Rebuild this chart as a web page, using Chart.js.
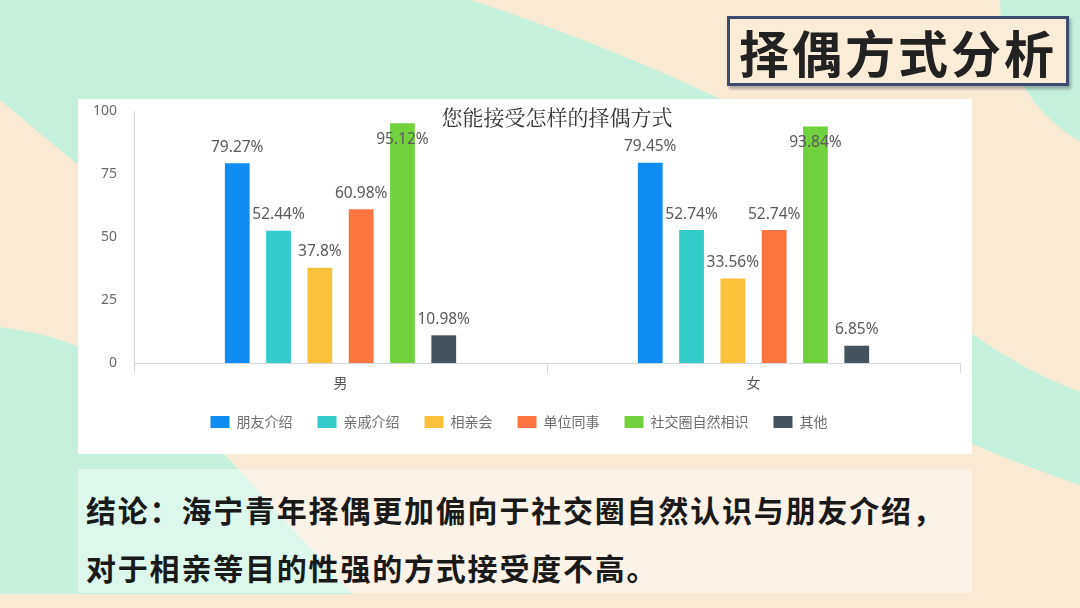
<!DOCTYPE html>
<html>
<head>
<meta charset="utf-8">
<script src="https://cdn.jsdelivr.net/npm/chart.js@4.4.1/dist/chart.umd.min.js"></script>
<style>
  html, body { margin:0; padding:0; }
  body { width:1080px; height:608px; position:relative; overflow:hidden; background:#f8ead5;
         font-family:"Noto Sans CJK SC","Noto Sans",sans-serif; }
  #bg { position:absolute; left:0; top:0; }
  #titleBox { position:absolute; left:727px; top:16px; width:336px; height:64px;
    border:3px solid #3d4b6e; background:#f9ecd8; box-shadow:2px 3px 3px rgba(40,40,60,0.35);
    display:flex; align-items:center; justify-content:center;
    font-size:50px; font-weight:700; letter-spacing:3px; color:#222; }
  #panel { position:absolute; left:78px; top:99px; width:894px; height:355px; background:#fff; }
  #concl { position:absolute; left:78px; top:469px; width:894px; height:124px; background:rgba(255,255,255,0.45); }
  .line { position:absolute; left:8px; font-size:30px; font-weight:700; color:#1a1a1a; letter-spacing:1.8px; white-space:nowrap; line-height:36px; }
</style>
</head>
<body>
<svg id="bg" width="1080" height="608" viewBox="0 0 1080 608">
  <path d="M0,0 L470,0 Q610,45 748,112 L600,320 L78,165 L0,100 Z" fill="#c4f0dc"/>
  <path d="M0,327 Q50,334 78,347 Q160,395 227,457 L352,594 L0,594 Z" fill="#c4f0dc"/>
  <ellipse cx="1150" cy="0" rx="150" ry="160" fill="#c4f0dc"/>
  <path d="M930,300 Q1000,362 1080,392 L1080,485 Q1010,462 930,425 Z" fill="#c4f0dc"/>
</svg>
<div id="titleBox">择偶方式分析</div>
<div id="panel"><canvas id="c" width="894" height="355"></canvas></div>
<div id="concl">
  <div class="line" style="top:22px;">结论：海宁青年择偶更加偏向于社交圈自然认识与朋友介绍，</div>
  <div class="line" style="top:80px;">对于相亲等目的性强的方式接受度不高。</div>
</div>
<script>
const categories = ['男', '女'];
const seriesNames = ['朋友介绍', '亲戚介绍', '相亲会', '单位同事', '社交圈自然相识', '其他'];
const friendIntro = [79.27, 79.45];
const relativeIntro = [52.44, 52.74];
const blindDate = [37.8, 33.56];
const colleagues = [60.98, 52.74];
const socialCircle = [95.12, 93.84];
const others = [10.98, 6.85];
const yTicks = [0, 25, 50, 75, 100];
const chartTitle = '您能接受怎样的择偶方式';

const seriesValues = [friendIntro, relativeIntro, blindDate, colleagues, socialCircle, others];
const colors = ['#0e8cf2', '#34cccb', '#fbc13b', '#fc7440', '#71d23d', '#44535e'];

const labelPlugin = {
  id: 'barLabels',
  afterDatasetsDraw(chart) {
    const ctx = chart.ctx;
    const top = chart.chartArea.top;
    ctx.save();
    ctx.font = '15.5px "Noto Sans", sans-serif';
    ctx.fillStyle = '#5a5a5a';
    ctx.textAlign = 'center';
    ctx.textBaseline = 'middle';
    chart.data.datasets.forEach((ds, di) => {
      const meta = chart.getDatasetMeta(di);
      meta.data.forEach((bar, i) => {
        let y = bar.y - 16;
        if (y < top + 22) y = bar.y + 16;
        ctx.fillText(ds.data[i] + '%', bar.x, y);
      });
    });
    ctx.restore();
  }
};

const titlePlugin = {
  id: 'chartTitle',
  afterDraw(chart) {
    const ctx = chart.ctx;
    const a = chart.chartArea;
    ctx.save();
    ctx.font = '21px "Noto Serif CJK SC", "Noto Sans CJK SC", serif';
    ctx.fillStyle = '#333';
    ctx.textAlign = 'center';
    ctx.textBaseline = 'middle';
    ctx.fillText(chartTitle, (a.left + a.right) / 2 + 10, 18);
    ctx.restore();
  }
};

new Chart(document.getElementById('c'), {
  type: 'bar',
  data: {
    labels: categories,
    datasets: seriesNames.map((n, i) => ({
      label: n,
      data: seriesValues[i],
      backgroundColor: colors[i],
      borderWidth: 0,
      categoryPercentage: 0.6,
      barPercentage: 0.6
    }))
  },
  options: {
    responsive: false,
    animation: false,
    devicePixelRatio: 1,
    layout: { padding: { top: 12, left: 0, right: 12, bottom: 15 } },
    plugins: {
      title: { display: false },
      tooltip: { enabled: false },
      legend: {
        position: 'bottom',
        labels: {
          boxWidth: 19, boxHeight: 12, padding: 25,
          color: '#6e6e6e',
          font: { size: 14, family: '"Noto Sans CJK SC", sans-serif' }
        }
      }
    },
    scales: {
      x: {
        grid: { display: true, drawOnChartArea: false, drawTicks: true, tickLength: 10, color: '#d3d7de', offset: true },
        border: { display: true, color: '#d3d7de' },
        ticks: { color: '#555', padding: 1, font: { size: 14, family: '"Noto Sans CJK SC", sans-serif' } },
        afterFit(s) { s.height = 27; }
      },
      y: {
        min: 0, max: 100,
        afterBuildTicks(s) { s.ticks = yTicks.map(v => ({ value: v })); },
        grid: { display: false, drawTicks: true, tickLength: 17 },
        border: { display: true, color: '#d3d7de' },
        ticks: { color: '#6a6a6a', padding: 0, font: { size: 14, family: '"Noto Sans", sans-serif' } },
        afterFit(s) { s.width = 56; }
      }
    }
  },
  plugins: [labelPlugin, titlePlugin]
});
</script>
</body>
</html>
